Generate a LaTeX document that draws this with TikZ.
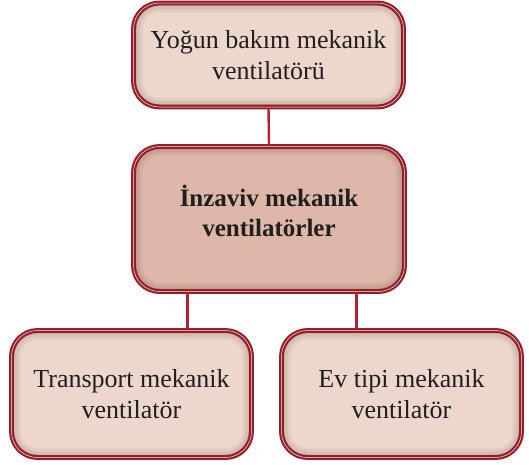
\documentclass[tikz,border=0pt]{standalone}
\usepackage{fontspec}
\setmainfont{Liberation Serif}
\definecolor{boxlight}{RGB}{237,215,205}
\definecolor{boxdark}{RGB}{223,183,168}
\definecolor{boxedge}{RGB}{150,30,42}
\definecolor{linkred}{RGB}{180,36,48}
\tikzset{
  kutu/.style={draw=boxedge, line width=2.2pt, double=boxlight!60!white, double distance=0.5pt,
    rounded corners=26pt, align=center, inner sep=0pt,
    font=\fontsize{26}{31}\selectfont, text=black!88,
    path picture={
      \foreach \w/\o in {18/0.06,12/0.08,6/0.12}
        \draw[line width=\w pt, black!70!brown, opacity=\o, rounded corners=26pt]
          (path picture bounding box.south west) rectangle (path picture bounding box.north east);
    }},
  baglanti/.style={draw=linkred, line width=2.4pt}
}
\begin{document}
\begin{tikzpicture}[x=1pt, y=1pt]
  \useasboundingbox (0,0) rectangle (529,-464);

  % kutular
  \node[kutu, fill=boxlight, minimum width=270pt, minimum height=104pt] (yogun) at (268.5,-55)
    {Yoğun bakım mekanik\\ventilatörü};
  \node[kutu, fill=boxdark, minimum width=271pt, minimum height=145pt, font=\fontsize{25}{30}\selectfont\bfseries] (inzaviv) at (269,-219)
    {İnzaviv mekanik\\ventilatörler\\[-14pt]};
  \node[kutu, fill=boxlight, minimum width=240pt, minimum height=127pt] (transport) at (131.5,-394)
    {Transport mekanik\\ventilatör};
  \node[kutu, fill=boxlight, minimum width=240pt, minimum height=127pt] (evtipi) at (401.5,-394)
    {Ev tipi mekanik\\ventilatör};

  % baglantilar
  \draw[baglanti] (yogun.south) -- (inzaviv.north);
  \draw[baglanti] ([xshift=55pt]inzaviv.south west) -- ([xshift=55pt]inzaviv.south west |- transport.north);
  \draw[baglanti] ([xshift=-49pt]inzaviv.south east) -- ([xshift=-49pt]inzaviv.south east |- evtipi.north);
\end{tikzpicture}
\end{document}
